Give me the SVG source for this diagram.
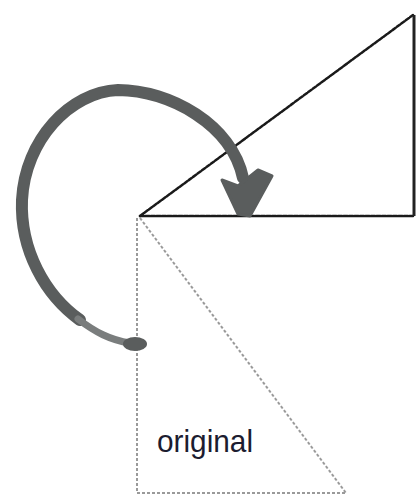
<svg xmlns="http://www.w3.org/2000/svg" width="419" height="500" viewBox="0 0 419 500">
<style>
.dark{fill:none;stroke:#1a1a1a;stroke-width:2.5;stroke-dasharray:4 1.5;stroke-linecap:round}
.solid{fill:none;stroke:#222;stroke-width:3}
.light{fill:none;stroke:#9a9a9a;stroke-width:2;stroke-dasharray:3 2}
.arrow{fill:none;stroke:#5a5d5d;stroke-width:12;stroke-linecap:round;stroke-linejoin:round}
.label{font-family:"Liberation Sans",Arial,sans-serif;font-size:32px;fill:#1c1c30}
</style>
<rect width="419" height="500" fill="#ffffff"/>
<g id="triangle-original">
<path class="light" d="M137 218 L137 493 L346 493"/>
<path class="light" d="M140 218 L346 493"/>
<text class="label" x="157" y="452" textLength="96" lengthAdjust="spacingAndGlyphs">original</text>
</g>
<g id="triangle-rotated">
<path class="dark" d="M140 216 L413 216"/>
<path class="dark" d="M140 216 L413 15"/>
<path class="solid" d="M414 15 L414 216"/>
</g>
<g id="connectors">
<path class="arrow" d="M80 320 C 45 295, 20 250, 22 200 C 25 140, 70 92, 118 90 C 170 90, 232 125, 243 178"/>
<path fill="none" stroke="#7a7d7d" stroke-width="7" stroke-linecap="round" d="M78 319 C 95 332, 110 340, 130 343"/>
<ellipse cx="135" cy="344" rx="12" ry="7" fill="#5a5d5d"/>
<path d="M222 180 L238 186 L258 170 L272 176 L250 216 L238 214 Z" fill="#5a5d5d" stroke="#5a5d5d" stroke-width="3" stroke-linejoin="round"/>
</g>
</svg>
